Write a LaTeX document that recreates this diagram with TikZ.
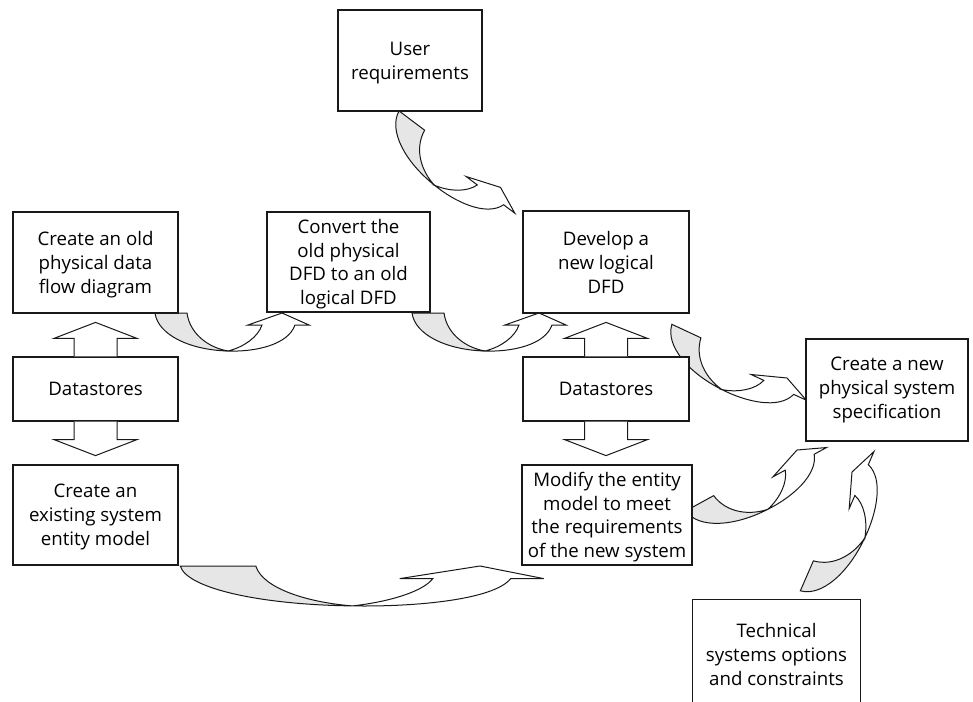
\documentclass[tikz,border=0pt]{standalone}
\usepackage{fontspec}
\setmainfont{Open Sans}
\usetikzlibrary{calc}
\definecolor{bandgray}{RGB}{230,230,230}
\definecolor{inkline}{RGB}{25,25,25}
\tikzset{
  box/.style={draw=inkline, line width=0.9pt, fill=white, align=center, inner sep=0pt,
    font=\fontsize{14}{18}\selectfont},
  label text/.style={align=center, inner sep=0pt, font=\fontsize{14}{18}\selectfont},
  tight lines/.style={font=\fontsize{14}{17.6}\selectfont},
  lowered/.style={text depth=0pt},
  arrowline/.style={draw=inkline, line width=0.75pt, line join=miter},
  % straight block arrow, base centre at the origin, pointing up
  pics/blockarrow/.style={code={
    \draw[arrowline, fill=white] (-21.5,0) -- (-21.5,-18) -- (-41.5,-18) -- (0,-34)
      -- (41.5,-18) -- (21.5,-18) -- (21.5,0);
  }},
  % bent arrow with a shaded back band, tip at the origin
  pics/bentarrow/.style={code={
    \draw[arrowline, fill=bandgray] (-127,0) -- (-95,0)
      .. controls (-92,22) and (-72,35) .. (-54,38)
      .. controls (-92,37) and (-124,22) .. cycle;
    \draw[arrowline, fill=white] (-54,38)
      .. controls (-27,39) and (6,32) .. (13,12)
      -- (27,12) -- (0,0) -- (-34,12) -- (-20,12)
      .. controls (-24,24) and (-38,34) .. cycle;
  }},
}
\begin{document}
\begin{tikzpicture}[x=0.75pt, y=-0.75pt]
\useasboundingbox (0,0) rectangle (973,702);

% bent arrows between the process steps
\pic at (282,313) {bentarrow};
\pic at (539,313) {bentarrow};
\pic[rotate=-37] at (500.5,187.4) {bentarrow};
\pic[rotate=-25] at (787,378) {bentarrow};
\pic[xscale=2.36, yscale=1.05] at (480,566) {bentarrow};
\pic[rotate=28.7] at (797,450) {bentarrow};
\pic[rotate=66.5, xscale=1.02] at (852,472) {bentarrow};

% process boxes
\node[box, lowered, minimum width=108pt, minimum height=75.75pt] (user) at (410,60.5) {User\\requirements};
\node[box, lowered, minimum width=123.75pt, minimum height=75.75pt] (old) at (95.5,262.5) {Create an old\\physical data\\flow diagram};
\node[box, lowered, tight lines, minimum width=122.25pt, minimum height=75pt] (conv) at (348.5,262) {Convert the\\old physical\\DFD to an old\\logical DFD};
\node[box, minimum width=124.5pt, minimum height=76.5pt] (dev) at (606,262) {Develop a\\new logical\\DFD};
\node[box, minimum width=123.75pt, minimum height=48pt] (ds1) at (95.5,389) {Datastores};
\node[box, minimum width=124.5pt, minimum height=48pt] (ds2) at (606,389) {Datastores};
\node[box, lowered, minimum width=123.75pt, minimum height=75pt] (ent) at (95.5,515) {Create an\\existing system\\entity model};
\node[box, lowered, tight lines, minimum width=127.5pt, minimum height=75pt] (mod) at (607,515) {Modify the entity\\model to meet\\the requirements\\of the new system};
\node[box, minimum width=121.5pt, minimum height=76.5pt] (spec) at (887,390) {Create a new\\physical system\\specification};
\node[label text, minimum width=125.25pt, minimum height=81pt] (tech) at (776.5,654) {Technical\\systems options\\and constraints};
\draw[draw=inkline, line width=0.9pt] (tech.south west) -- (tech.north west) -- (tech.north east) -- (tech.south east);

% block arrows between the datastores and their neighbours
\pic at (ds1.north) {blockarrow};
\pic[rotate=180] at (ds1.south) {blockarrow};
\pic at (ds2.north) {blockarrow};
\pic[rotate=180] at (ds2.south) {blockarrow};
\end{tikzpicture}
\end{document}
